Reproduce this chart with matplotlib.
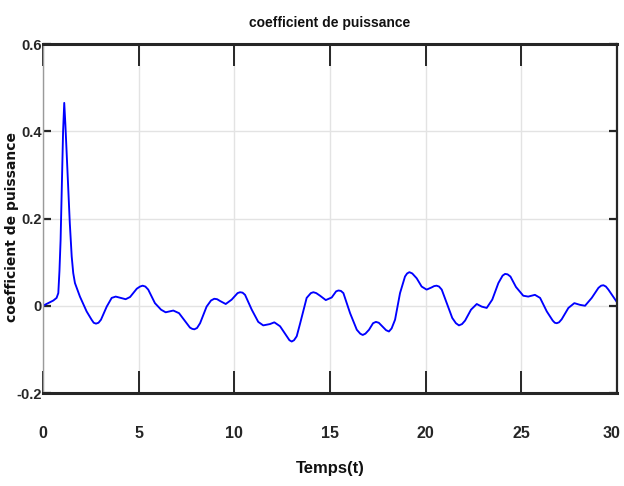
import matplotlib
matplotlib.use("Agg")
import matplotlib.pyplot as plt
from matplotlib import font_manager, transforms

# ---- data ----
t = [0.00, 0.27, 0.54, 0.71, 0.80, 0.86, 0.92, 1.00, 1.05, 1.11, 1.17, 1.25,
     1.32, 1.40, 1.50, 1.58, 1.67, 1.93, 2.28, 2.54, 2.65, 2.77, 2.90, 3.03, 3.33, 3.59,
     3.80, 4.06, 4.32, 4.55, 4.90, 5.07, 5.21, 5.35, 5.50, 5.85, 6.17, 6.41, 6.81, 7.11,
     7.42, 7.68, 7.80, 7.91, 8.05, 8.21, 8.55, 8.78, 8.95, 9.10, 9.25, 9.55, 9.86,
     10.17, 10.30, 10.43, 10.56, 10.91,
     11.25, 11.51, 11.86, 12.09, 12.39, 12.74, 12.88, 13.00, 13.12, 13.26, 13.43, 13.78,
     14.00, 14.13, 14.28,
     14.48, 14.78, 15.09, 15.32, 15.44, 15.57, 15.70, 16.05, 16.40, 16.58, 16.71, 16.85,
     17.04, 17.25, 17.40, 17.55, 17.73, 17.93,
     18.08, 18.22, 18.40, 18.66, 18.92, 19.03, 19.15, 19.30, 19.53, 19.79, 20.05, 20.31,
     20.44, 20.57, 20.70, 20.84,
     21.10, 21.39, 21.58, 21.74, 21.90, 22.06, 22.37, 22.67, 22.93, 23.19, 23.48, 23.80,
     24.02, 24.15, 24.28,
     24.43, 24.72, 25.10, 25.36, 25.71, 25.98, 26.33, 26.64, 26.75, 26.85, 26.97, 27.11, 27.46,
     27.77, 28.07, 28.33, 28.68, 29.03, 29.17, 29.29, 29.42, 29.55, 29.81, 30.00]
cp = [0.000, 0.006, 0.012, 0.018, 0.029, 0.080, 0.151, 0.300, 0.400, 0.465, 0.415, 0.335,
      0.266, 0.190, 0.113, 0.075, 0.052, 0.021, -0.013, -0.032, -0.039, -0.041, -0.039, -0.032,
      -0.002, 0.018,
      0.021, 0.018, 0.015, 0.020, 0.039, 0.044, 0.046, 0.044, 0.037, 0.006, -0.009, -0.015,
      -0.011, -0.017,
      -0.035, -0.050, -0.053, -0.054, -0.051, -0.040, -0.002, 0.012, 0.016, 0.015, 0.011,
      0.004, 0.014,
      0.029, 0.031, 0.030, 0.025, -0.009,
      -0.037, -0.045, -0.042, -0.038, -0.047, -0.070, -0.079, -0.082, -0.079, -0.070, -0.042,
      0.018,
      0.029, 0.031, 0.029,
      0.023, 0.013, 0.019, 0.033, 0.035, 0.034, 0.029, -0.017, -0.055, -0.064, -0.067, -0.064,
      -0.055, -0.040, -0.037, -0.039, -0.047, -0.056,
      -0.059, -0.052, -0.032, 0.029, 0.067, 0.074, 0.077, 0.074, 0.063, 0.044, 0.037, 0.042,
      0.045, 0.046, 0.044, 0.037,
      0.006, -0.028, -0.040, -0.045, -0.042, -0.034, -0.009, 0.004, -0.002, -0.005, 0.014,
      0.052,
      0.069, 0.073, 0.072,
      0.067, 0.043, 0.023, 0.021, 0.025, 0.018, -0.013, -0.034, -0.039, -0.040, -0.038,
      -0.031, -0.005,
      0.006, 0.002, 0.000, 0.018, 0.041, 0.046, 0.047, 0.044, 0.037, 0.020, 0.008]
xticks = [0, 5, 10, 15, 20, 25, 30]
yticks = [-0.2, 0, 0.2, 0.4, 0.6]
ytick_labels = ["-0.2", "0", "0.2", "0.4", "0.6"]
title = "coefficient de puissance"
xlabel = "Temps(t)"
ylabel = "coefficient de puissance"

available = {f.name for f in font_manager.fontManager.ttflist}
narrow = "Liberation Sans Narrow" if "Liberation Sans Narrow" in available else "Liberation Sans"
nfam = [narrow, "DejaVu Sans"]

fig = plt.figure(figsize=(6.24, 4.86), dpi=100)
ax = fig.add_axes([43/624, (486-393)/486, (617-43)/624, (393-44)/486])

ax.plot(t, cp, color="#0000ff", lw=1.35, solid_joinstyle="round")
ax.set_xlim(0, 30)
ax.set_ylim(-0.2, 0.6)
ax.set_xticks(xticks)
ax.set_yticks(yticks)
ax.set_yticklabels(ytick_labels)
ax.grid(True, color="#e3e3e3", lw=1.0)
ax.set_axisbelow(True)

ax.tick_params(axis="x", direction="in", length=16, width=1.4, color="#262626",
               top=True, bottom=True, pad=24, labelsize=11.5)
ax.tick_params(axis="y", direction="in", length=6, width=1.6, color="#262626",
               left=True, right=True, pad=1, labelsize=10.5)
for lab in ax.get_xticklabels() + ax.get_yticklabels():
    lab.set_family(nfam)
    lab.set_fontweight("bold")
    lab.set_color("#262626")

# keep the last x tick label inside the figure
last = ax.get_xticklabels()[-1]
last.set_transform(last.get_transform() + transforms.ScaledTranslation(-5/100, 0, fig.dpi_scale_trans))

for side in ("top", "bottom"):
    ax.spines[side].set_linewidth(2.2)
    ax.spines[side].set_color("#262626")
ax.spines["right"].set_linewidth(1.6)
ax.spines["right"].set_color("#262626")
ax.spines["left"].set_linewidth(1.0)
ax.spines["left"].set_color("#9a9a9a")

ax.set_title(title, family=nfam, fontweight="bold", fontsize=10, pad=12, color="#111111")
ax.set_xlabel(xlabel, family=nfam, fontweight="bold", fontsize=12, labelpad=14, color="#111111")
fig.text(12/624, 1 - 227/486, ylabel, rotation=90, ha="center", va="center",
         family=["DejaVu Sans"], fontweight="bold", fontsize=10, color="#111111")

fig.savefig("out.png", dpi=100)
